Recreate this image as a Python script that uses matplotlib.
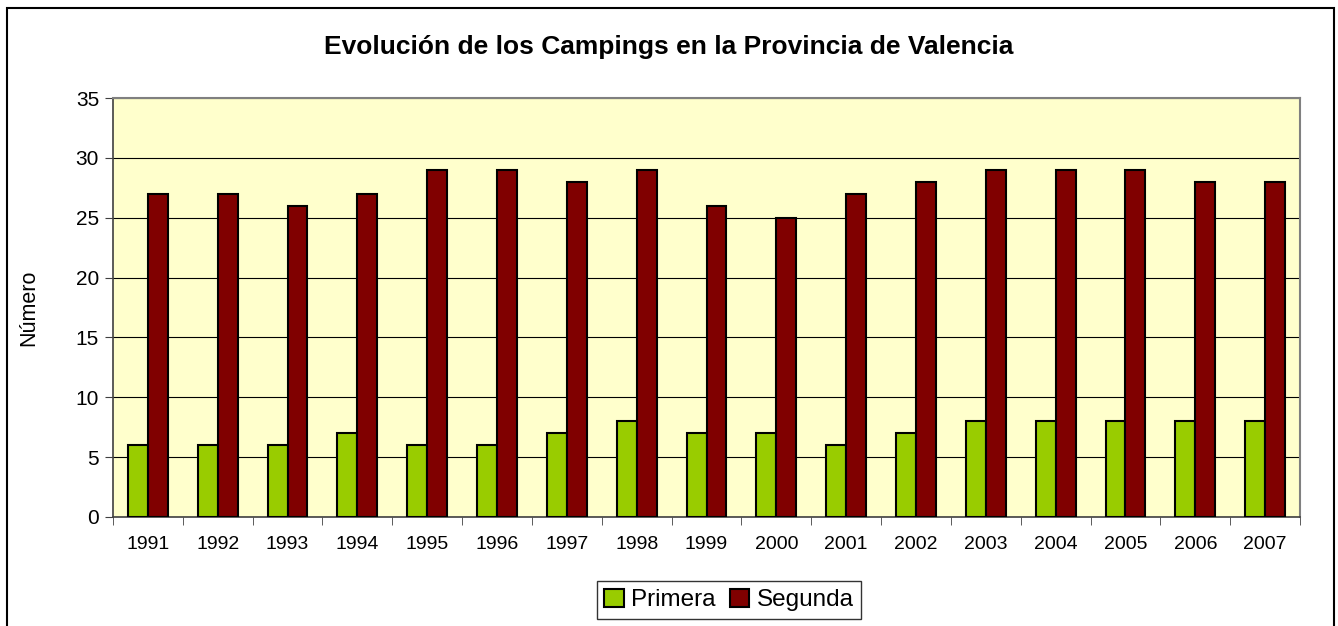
import matplotlib.pyplot as plt
import numpy as np
from matplotlib.patches import Rectangle

years = ['1991', '1992', '1993', '1994', '1995', '1996', '1997', '1998', '1999',
         '2000', '2001', '2002', '2003', '2004', '2005', '2006', '2007']
primera = [6, 6, 6, 7, 6, 6, 7, 8, 7, 7, 6, 7, 8, 8, 8, 8, 8]
segunda = [27, 27, 26, 27, 29, 29, 28, 29, 26, 25, 27, 28, 29, 29, 29, 28, 28]

plt.rcParams['font.family'] = ['Liberation Sans', 'DejaVu Sans']

fig = plt.figure(figsize=(13.38, 6.26), dpi=100)
ax = fig.add_axes([113 / 1338, 1 - 517 / 626, 1187 / 1338, 419 / 626])
ax.set_facecolor('#FFFFCC')

# outer chart border
fig.patches.append(Rectangle((7 / 1338, -0.01), 1327 / 1338, 1 - 8 / 626 + 0.01,
                             transform=fig.transFigure, fill=False,
                             edgecolor='black', linewidth=1.5))

x = np.arange(len(years))
w = 0.285
ax.bar(x - w / 2, primera, w, color='#99CC00', edgecolor='black', linewidth=1.5,
       label='Primera', zorder=3)
ax.bar(x + w / 2, segunda, w, color='#800000', edgecolor='black', linewidth=1.5,
       label='Segunda', zorder=3)

ax.set_xlim(-0.5, len(years) - 0.5)
ax.set_ylim(0, 35)
ax.set_yticks(range(0, 36, 5))
ax.yaxis.grid(True, color='black', linewidth=0.8, zorder=1)
ax.set_axisbelow(True)

ax.set_xticks(x)
ax.set_xticklabels(years, fontsize=14)
ax.set_xticks(np.arange(-0.5, len(years), 1), minor=True)
ax.tick_params(axis='x', which='major', length=0, pad=14)
ax.tick_params(axis='x', which='minor', length=6, direction='out', color='#404040')
ax.tick_params(axis='y', length=6, direction='out', color='#404040', labelsize=15, pad=4)

for s in ['left', 'bottom']:
    ax.spines[s].set_color('#404040')
    ax.spines[s].set_linewidth(1.2)
for s in ['top', 'right']:
    ax.spines[s].set_color('#808080')
    ax.spines[s].set_linewidth(1.5)

ax.set_ylabel('Número', fontsize=15.5, labelpad=26)
fig.text(0.5, 1 - 47 / 626, 'Evolución de los Campings en la Provincia de Valencia',
         ha='center', va='center', fontsize=19, fontweight='bold')

leg = ax.legend(loc='center', bbox_to_anchor=(729 / 1338, 1 - 600 / 626),
                bbox_transform=fig.transFigure, ncol=2, fontsize=17.5, frameon=True,
                fancybox=False, edgecolor='black', handlelength=0.8, handleheight=0.8,
                handletextpad=0.3, columnspacing=0.6, borderpad=0.3)
leg.get_frame().set_linewidth(1.0)

fig.savefig('out.png', dpi=100)
